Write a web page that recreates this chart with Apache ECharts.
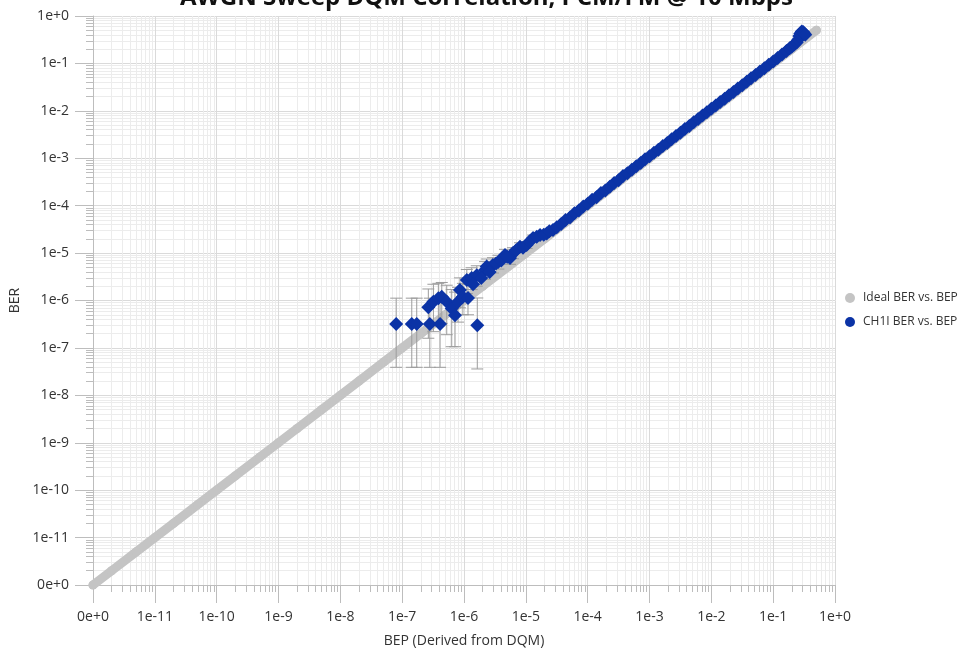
<!DOCTYPE html>
<html>
<head>
<meta charset="utf-8">
<script src="https://cdn.jsdelivr.net/npm/echarts@6/dist/echarts.min.js"></script>
<style>
  html, body { margin: 0; padding: 0; background: #ffffff; }
  #chart { width: 973px; height: 650px; }
</style>
</head>
<body>
<div id="chart"></div>
<script>
// ---- chart text ----
const titleText = 'AWGN Sweep DQM Correlation, PCM/FM @ 10 Mbps';
const xAxisName = 'BEP (Derived from DQM)';
const yAxisName = 'BER';
const idealName = 'Ideal BER vs. BEP';
const ch1iName = 'CH1I BER vs. BEP';

// ---- decade tick labels (lowest decade is shown as 0e+0) ----
const decadeExponents = [-12, -11, -10, -9, -8, -7, -6, -5, -4, -3, -2, -1, 0];
const decadeLabels = ['0e+0', '1e-11', '1e-10', '1e-9', '1e-8', '1e-7', '1e-6',
                      '1e-5', '1e-4', '1e-3', '1e-2', '1e-1', '1e+0'];

// ---- ideal curve (BER equals BEP) ----
const idealBep = [1e-12, 2e-12, 5e-12, 1e-11, 2e-11, 5e-11, 1e-10, 2e-10, 5e-10,
                  1e-9, 2e-9, 5e-9, 1e-8, 2e-8, 5e-8, 1e-7, 2e-7, 5e-7, 1e-6, 2e-6, 5e-6,
                  1e-5, 2e-5, 5e-5, 1e-4, 2e-4, 5e-4, 1e-3, 2e-3, 5e-3, 1e-2, 2e-2, 5e-2,
                  1e-1, 2e-1, 5e-1];
const idealBer = [1e-12, 2e-12, 5e-12, 1e-11, 2e-11, 5e-11, 1e-10, 2e-10, 5e-10,
                  1e-9, 2e-9, 5e-9, 1e-8, 2e-8, 5e-8, 1e-7, 2e-7, 5e-7, 1e-6, 2e-6, 5e-6,
                  1e-5, 2e-5, 5e-5, 1e-4, 2e-4, 5e-4, 1e-3, 2e-3, 5e-3, 1e-2, 2e-2, 5e-2,
                  1e-1, 2e-1, 5e-1];

// ---- measured CH1I points (the first 33 carry confidence bounds) ----
const ch1iBep = [
  8.0e-8, 1.43e-7, 1.72e-7, 2.8e-7, 4.1e-7,
  2.65e-7, 3.2e-7, 3.85e-7, 4.37e-7, 5.26e-7, 6.33e-7, 7.16e-7,
  1.64e-6, 8.0e-7, 8.6e-7, 9.6e-7, 1.11e-6, 1.16e-6, 1.33e-6, 1.61e-6,
  2.19e-6, 2.33e-6, 2.94e-6, 3.6e-6, 4.6e-6, 5.55e-6, 6.2e-6, 8.05e-6,
  1.03e-5, 1.31e-5, 1.70e-5, 2.18e-5, 2.75e-5,
  1.4e-6, 1.9e-6, 2.6e-6, 3.3e-6, 4.0e-6, 5.0e-6, 7.0e-6, 9.0e-6, 1.15e-5, 1.5e-5, 1.95e-5, 2.4e-5,
  3.16e-5, 3.73e-5, 4.39e-5, 5.18e-5, 6.11e-5, 7.2e-5, 8.48e-5,
  1.0e-4, 1.18e-4, 1.39e-4, 1.64e-4, 1.93e-4, 2.28e-4, 2.68e-4, 3.16e-4, 3.73e-4, 4.39e-4, 5.18e-4, 6.11e-4, 7.2e-4, 8.48e-4,
  1.0e-3, 1.18e-3, 1.39e-3, 1.64e-3, 1.93e-3, 2.28e-3, 2.68e-3, 3.16e-3, 3.73e-3, 4.39e-3, 5.18e-3, 6.11e-3, 7.2e-3, 8.48e-3,
  1.0e-2, 1.18e-2, 1.39e-2, 1.64e-2, 1.93e-2, 2.28e-2, 2.68e-2, 3.16e-2, 3.73e-2, 4.39e-2, 5.18e-2, 6.11e-2, 7.2e-2, 8.48e-2,
  0.1, 0.118, 0.139, 0.164, 0.185, 0.2, 0.22, 0.24, 0.255, 0.265, 0.275, 0.29, 0.305, 0.32, 0.33
];
const ch1iBer = [
  3.2e-7, 3.2e-7, 3.2e-7, 3.2e-7, 3.2e-7,
  7.2e-7, 9.4e-7, 1.11e-6, 1.2e-6, 9.4e-7, 6.8e-7, 4.9e-7,
  3.0e-7, 9.4e-7, 1.66e-6, 1.2e-6, 2.7e-6, 1.13e-6, 3.0e-6, 3.4e-6,
  4.4e-6, 5.2e-6, 5.6e-6, 6.6e-6, 9.1e-6, 7.9e-6, 1.0e-5, 1.36e-5,
  1.48e-5, 2.08e-5, 2.4e-5, 2.6e-5, 3.06e-5,
  2.2e-6, 3.0e-6, 4.0e-6, 6.0e-6, 7.0e-6, 8.4e-6, 1.15e-5, 1.3e-5, 1.75e-5, 2.2e-5, 2.45e-5, 2.9e-5,
  3.5e-5, 4.1e-5, 5.0e-5, 5.6e-5, 6.9e-5, 7.9e-5, 9.6e-5,
  1.1e-4, 1.33e-4, 1.5e-4, 1.85e-4, 2.1e-4, 2.5e-4, 3.0e-4, 3.45e-4, 4.2e-4, 4.8e-4, 5.7e-4, 6.8e-4, 7.9e-4, 9.5e-4,
  1.1e-3, 1.31e-3, 1.52e-3, 1.82e-3, 2.1e-3, 2.52e-3, 2.95e-3, 3.45e-3, 4.15e-3, 4.8e-3, 5.75e-3, 6.7e-3, 8.0e-3, 9.3e-3,
  1.1e-2, 1.3e-2, 1.54e-2, 1.8e-2, 2.14e-2, 2.5e-2, 2.97e-2, 3.48e-2, 4.12e-2, 4.85e-2, 5.7e-2, 6.75e-2, 7.95e-2, 9.35e-2,
  0.11, 0.13, 0.154, 0.183, 0.21, 0.225, 0.25, 0.275, 0.32, 0.38, 0.43, 0.47, 0.46, 0.43, 0.40
];
// lower / upper confidence bounds, in the same order as the first points above
const ch1iBerLow = [
  3.9e-8, 3.9e-8, 3.9e-8, 3.9e-8, 3.9e-8,
  1.6e-7, 2.2e-7, 2.9e-7, 3.3e-7, 1.9e-7, 1.06e-7, 1.06e-7,
  3.6e-8, 3.5e-7, 7.0e-7, 5.0e-7, 1.4e-6, 5.0e-7, 1.7e-6, 2.0e-6,
  2.8e-6, 3.4e-6, 3.8e-6, 4.6e-6, 6.8e-6, 5.8e-6, 7.6e-6, 1.1e-5,
  1.25e-5, 1.8e-5, 2.1e-5, 2.3e-5, 2.75e-5
];
const ch1iBerHigh = [
  1.12e-6, 1.12e-6, 1.12e-6, 1.12e-6, 1.12e-6,
  1.75e-6, 2.2e-6, 2.3e-6, 2.4e-6, 2.1e-6, 1.7e-6, 1.5e-6,
  1.13e-6, 1.9e-6, 3.0e-6, 2.3e-6, 4.5e-6, 2.2e-6, 4.9e-6, 5.4e-6,
  6.6e-6, 7.5e-6, 8.0e-6, 9.0e-6, 1.2e-5, 1.05e-5, 1.3e-5, 1.65e-5,
  1.75e-5, 2.4e-5, 2.7e-5, 2.9e-5, 3.4e-5
];

// ---- colours ----
const idealColor = '#c4c4c4';
const ch1iColor = '#0b33a6';
const errColor = '#9c9c9c';
const axisColor = '#bdbdbd';
const textColor = '#333333';
const fontFamily = '"Open Sans", "Noto Sans", sans-serif';

function decadeLabel(v) {
  const e = Math.round(Math.log10(v));
  const i = decadeExponents.indexOf(e);
  return i >= 0 ? decadeLabels[i] : '';
}

const idealData = idealBep.map((x, i) => [x, idealBer[i]]);
const ch1iData = ch1iBep.map((x, i) => [x, ch1iBer[i]]);
const errData = ch1iBerLow.map((lo, i) => [ch1iBep[i], lo, ch1iBerHigh[i]]);

function logAxis(name, isX) {
  return {
    type: 'log',
    logBase: 10,
    min: 1e-12,
    max: 1,
    interval: 1,
    name: name,
    nameLocation: 'middle',
    nameGap: isX ? 49 : 62,
    nameTextStyle: { fontSize: 14, color: textColor, fontFamily: fontFamily },
    axisLine: { show: true, lineStyle: { color: axisColor, width: 1 } },
    axisTick: { show: true, inside: false, length: 18, lineStyle: { color: axisColor, width: 1 } },
    minorTick: { show: true, splitNumber: 9, length: 7, lineStyle: { color: axisColor, width: 1 } },
    splitLine: { show: true, lineStyle: { color: '#dadada', width: 1 } },
    minorSplitLine: { show: true, lineStyle: { color: '#ececec', width: 1 } },
    axisLabel: {
      formatter: decadeLabel,
      fontSize: 14,
      color: textColor,
      fontFamily: fontFamily,
      margin: isX ? 25 : 24,
      interval: 0,
      showMinLabel: true,
      showMaxLabel: true
    }
  };
}

const chart = echarts.init(document.getElementById('chart'), null, { renderer: 'canvas' });
chart.setOption({
  animation: false,
  backgroundColor: '#ffffff',
  graphic: [{
    type: 'text',
    left: 'center',
    top: -14,
    style: {
      text: titleText,
      font: 'bold 24px ' + fontFamily,
      fill: '#111111'
    }
  }],
  grid: { left: 93, right: 138, top: 16, bottom: 65, containLabel: false, outerBoundsMode: 'none' },
  legend: {
    data: [idealName, ch1iName],
    orient: 'vertical',
    left: 840,
    top: 287,
    icon: 'circle',
    itemWidth: 10,
    itemHeight: 10,
    itemGap: 12,
    textStyle: { fontSize: 12, color: textColor, fontFamily: fontFamily, padding: [0, 0, 0, 3] }
  },
  xAxis: logAxis(xAxisName, true),
  yAxis: logAxis(yAxisName, false),
  series: [
    {
      name: idealName,
      type: 'line',
      data: idealData,
      symbol: 'circle',
      symbolSize: 9,
      showSymbol: true,
      itemStyle: { color: idealColor, opacity: 1 },
      lineStyle: { color: idealColor, width: 9, cap: 'round', join: 'round' },
      z: 2,
      silent: true
    },
    {
      type: 'custom',
      data: errData,
      z: 3,
      silent: true,
      renderItem: function (params, api) {
        const x = api.value(0);
        const top = api.coord([x, api.value(2)]);
        const bot = api.coord([x, api.value(1)]);
        const hw = 6;
        const style = { stroke: errColor, lineWidth: 1 };
        return {
          type: 'group',
          children: [
            { type: 'line', shape: { x1: top[0], y1: top[1], x2: bot[0], y2: bot[1] }, style: style },
            { type: 'line', shape: { x1: top[0] - hw, y1: top[1], x2: top[0] + hw, y2: top[1] }, style: style },
            { type: 'line', shape: { x1: bot[0] - hw, y1: bot[1], x2: bot[0] + hw, y2: bot[1] }, style: style }
          ]
        };
      }
    },
    {
      name: ch1iName,
      type: 'scatter',
      data: ch1iData,
      symbol: 'diamond',
      symbolSize: 14,
      itemStyle: { color: ch1iColor, opacity: 1 },
      z: 4,
      silent: true
    }
  ]
});
</script>
</body>
</html>
